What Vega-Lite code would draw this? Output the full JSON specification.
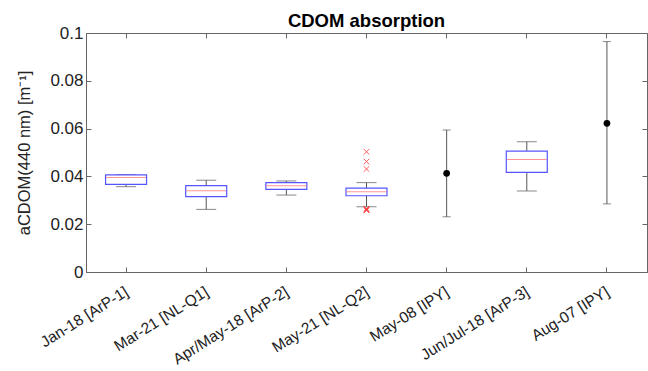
{
  "$schema": "https://vega.github.io/schema/vega-lite/v6.json",
  "width": 561,
  "height": 239,
  "autosize": {"type": "none"},
  "padding": {"left": 86, "top": 33, "right": 1, "bottom": 99},
  "background": "white",
  "config": {
    "font": "Liberation Sans",
    "view": {"stroke": "#666", "strokeWidth": 1},
    "axis": {"grid": false, "domainColor": "#666", "tickColor": "#666", "labelColor": "#222", "titleColor": "#222"}
  },
  "title": {"text": "CDOM absorption", "fontSize": 18.5, "fontWeight": "bold", "color": "#000", "anchor": "middle", "offset": -6, "font": "Liberation Sans"},
  "datasets": {
    "boxes": [
      {"cat": "Jan-18 [ArP-1]", "min": 0.0357, "q1": 0.0367, "median": 0.0395, "q3": 0.0406, "max": 0.0407},
      {"cat": "Mar-21 [NL-Q1]", "min": 0.0262, "q1": 0.0315, "median": 0.034, "q3": 0.0361, "max": 0.0384},
      {"cat": "Apr/May-18 [ArP-2]", "min": 0.0322, "q1": 0.0346, "median": 0.0361, "q3": 0.0374, "max": 0.0381},
      {"cat": "May-21 [NL-Q2]", "min": 0.0273, "q1": 0.0319, "median": 0.0336, "q3": 0.0351, "max": 0.0374},
      {"cat": "Jun/Jul-18 [ArP-3]", "min": 0.0339, "q1": 0.0417, "median": 0.0471, "q3": 0.0506, "max": 0.0545}
    ],
    "bars": [
      {"cat": "May-08 [IPY]", "mean": 0.0413, "lo": 0.0231, "hi": 0.0594},
      {"cat": "Aug-07 [IPY]", "mean": 0.0622, "lo": 0.0285, "hi": 0.0964}
    ],
    "outliers": [
      {"cat": "May-21 [NL-Q2]", "v": 0.0503},
      {"cat": "May-21 [NL-Q2]", "v": 0.0462},
      {"cat": "May-21 [NL-Q2]", "v": 0.0431},
      {"cat": "May-21 [NL-Q2]", "v": 0.0262},
      {"cat": "May-21 [NL-Q2]", "v": 0.0258},
      {"cat": "May-21 [NL-Q2]", "v": 0.0265},
      {"cat": "May-21 [NL-Q2]", "v": 0.026}
    ]
  },
  "resolve": {"axis": {"x": "independent", "y": "independent"}},
  "layer": [
    {
      "data": {"name": "boxes"},
      "mark": {"type": "rule", "color": "#555", "strokeWidth": 1},
      "encoding": {
        "x": {"field": "cat", "type": "nominal", "sort": null,
          "scale": {"type": "band", "domain": ["Jan-18 [ArP-1]", "Mar-21 [NL-Q1]", "Apr/May-18 [ArP-2]", "May-21 [NL-Q2]", "May-08 [IPY]", "Jun/Jul-18 [ArP-3]", "Aug-07 [IPY]"], "paddingInner": 0, "paddingOuter": 0},
          "axis": {"orient": "bottom", "title": null, "labelAngle": -32, "labelAlign": "right", "labelBaseline": "top", "labelFontSize": 15.5, "labelPadding": 17, "labelOffset": -3, "tickSize": -5, "domainColor": "#666"}},
        "y": {"field": "min", "type": "quantitative",
          "scale": {"domain": [0, 0.1], "nice": false, "zero": true},
          "axis": {"orient": "left", "values": [0, 0.02, 0.04, 0.06, 0.08, 0.1], "format": ".2~f", "labelFontSize": 17, "labelPadding": 8, "tickSize": -5,
            "title": "aCDOM(440 nm) [m⁻¹]", "titleFontSize": 16.5, "titleFontWeight": "normal", "titlePadding": 17}},
        "y2": {"field": "max"}
      }
    },
    {
      "data": {"name": "boxes"},
      "mark": {"type": "tick", "color": "#555", "size": 20, "thickness": 1},
      "encoding": {
        "x": {"field": "cat", "type": "nominal", "axis": null},
        "y": {"field": "min", "type": "quantitative", "axis": null}
      }
    },
    {
      "data": {"name": "boxes"},
      "mark": {"type": "tick", "color": "#555", "size": 20, "thickness": 1},
      "encoding": {
        "x": {"field": "cat", "type": "nominal", "axis": null},
        "y": {"field": "max", "type": "quantitative", "axis": null}
      }
    },
    {
      "data": {"name": "boxes"},
      "mark": {"type": "bar", "width": 41, "fill": "white", "stroke": "#5555ff", "strokeWidth": 1.2},
      "encoding": {
        "x": {"field": "cat", "type": "nominal", "axis": null},
        "y": {"field": "q1", "type": "quantitative", "axis": null},
        "y2": {"field": "q3"}
      }
    },
    {
      "data": {"name": "boxes"},
      "mark": {"type": "tick", "color": "#ff6666", "size": 40, "thickness": 1},
      "encoding": {
        "x": {"field": "cat", "type": "nominal", "axis": null},
        "y": {"field": "median", "type": "quantitative", "axis": null}
      }
    },
    {
      "data": {"name": "bars"},
      "mark": {"type": "rule", "color": "#555", "strokeWidth": 1},
      "encoding": {
        "x": {"field": "cat", "type": "nominal", "axis": null},
        "y": {"field": "lo", "type": "quantitative", "axis": null},
        "y2": {"field": "hi"}
      }
    },
    {
      "data": {"name": "bars"},
      "mark": {"type": "tick", "color": "#555", "size": 8, "thickness": 1},
      "encoding": {
        "x": {"field": "cat", "type": "nominal", "axis": null},
        "y": {"field": "lo", "type": "quantitative", "axis": null}
      }
    },
    {
      "data": {"name": "bars"},
      "mark": {"type": "tick", "color": "#555", "size": 8, "thickness": 1},
      "encoding": {
        "x": {"field": "cat", "type": "nominal", "axis": null},
        "y": {"field": "hi", "type": "quantitative", "axis": null}
      }
    },
    {
      "data": {"name": "bars"},
      "mark": {"type": "point", "filled": true, "color": "#000", "size": 45, "opacity": 1},
      "encoding": {
        "x": {"field": "cat", "type": "nominal", "axis": null},
        "y": {"field": "mean", "type": "quantitative", "axis": null}
      }
    },
    {
      "data": {"name": "outliers"},
      "mark": {"type": "point", "shape": "M -1 -1 L 1 1 M 1 -1 L -1 1", "filled": false, "color": "#ff3333", "size": 30, "strokeWidth": 1, "opacity": 0.8},
      "encoding": {
        "x": {"field": "cat", "type": "nominal", "axis": {"orient": "top", "title": null, "labels": false, "ticks": true, "tickSize": -5, "tickColor": "#666", "domain": false}},
        "y": {"field": "v", "type": "quantitative", "axis": {"orient": "right", "title": null, "labels": false, "ticks": true, "tickSize": -5, "tickColor": "#666", "domain": false, "values": [0, 0.02, 0.04, 0.06, 0.08, 0.1]}}
      }
    }
  ]
}
